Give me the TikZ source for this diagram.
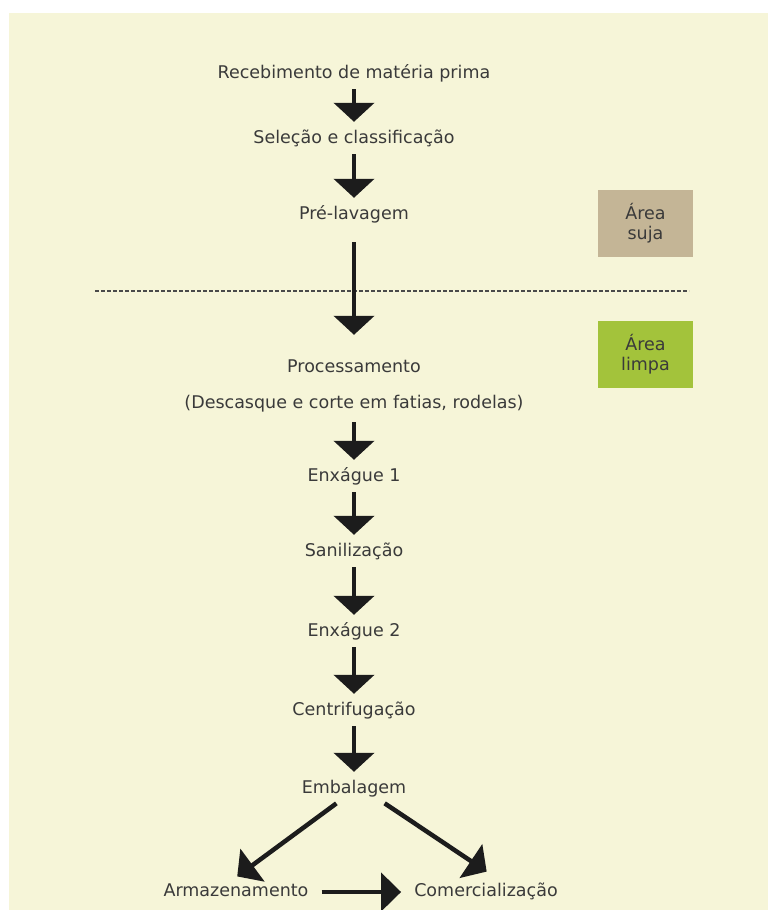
\documentclass[tikz,border=0pt]{standalone}
\usepackage{fontspec}
\setmainfont{DejaVu Sans}
\usepackage{xcolor}
\usepackage{tikz}
\usetikzlibrary{arrows.meta}
\definecolor{paper}{HTML}{F6F5D8}
\definecolor{ink}{HTML}{3A3A3A}
\definecolor{arrowink}{HTML}{1C1C1C}
\definecolor{dashink}{HTML}{4A4A4A}
\definecolor{dirty}{HTML}{C4B596}
\definecolor{clean}{HTML}{A3C33B}
\tikzset{
  stage/.style={text=ink, font=\fontsize{17.5pt}{21pt}\selectfont, anchor=base,
    text height=12pt, text depth=4pt, inner xsep=5pt, inner ysep=5pt},
  flow/.style={draw=arrowink, line width=4.5pt, -{Triangle[width=40pt,length=19pt]},
    shorten <=2pt, shorten >=4pt},
  sepline/.style={draw=dashink, line width=2pt, dash pattern=on 4pt off 2pt},
  areabox/.style={text=ink, font=\fontsize{17.5pt}{20pt}\selectfont, align=center,
    minimum width=95pt, minimum height=67pt, inner sep=0pt}
}

\begin{document}
\begin{tikzpicture}[x=1pt, y=-1pt]
  \useasboundingbox (0,0) rectangle (768,910);
  \fill[paper] (9,13) rectangle (768,910);

  % main column
  \node[stage] (rec) at (354,78) {Recebimento de matéria prima};
  \node[stage] (sel) at (354,143) {Seleção e classificação};
  \node[stage] (pre) at (354,219) {Pré-lavagem};
  \node[stage] (proc) at (354,372) {Processamento};
  \node[stage] (desc) at (354,408) {(Descasque e corte em fatias, rodelas)};
  \node[stage] (enx1) at (354,481) {Enxágue 1};
  \node[stage] (san) at (354,556) {Sanilização};
  \node[stage] (enx2) at (354,636) {Enxágue 2};
  \node[stage] (cen) at (354,715) {Centrifugação};
  \node[stage] (emb) at (354,793) {Embalagem};
  \node[stage] (arm) at (236,896) {Armazenamento};
  \node[stage] (com) at (486,896) {Comercialização};

  % areas
  \node[areabox, fill=dirty] (suja) at (645.5,223) {Área\\suja};
  \node[areabox, fill=clean] (limpa) at (645.5,354) {Área\\limpa};

  \draw[sepline] (95,291) -- (689,291);

  \draw[flow] (rec) -- (sel);
  \draw[flow] (sel) -- (pre);
  \draw[flow, shorten <=14pt, shorten >=20pt] (pre) -- (proc);
  \draw[flow, shorten <=5pt] (desc) -- (enx1);
  \draw[flow] (enx1) -- (san);
  \draw[flow] (san) -- (enx2);
  \draw[flow] (enx2) -- (cen);
  \draw[flow] (cen) -- (emb);

  \draw[flow] ([xshift=-16pt]emb.south) -- ([xshift=-2pt]arm.north);
  \draw[flow] ([xshift=29pt]emb.south) -- ([xshift=4pt,yshift=5pt]com.north);
  \draw[flow, -{Triangle[width=38pt,length=20pt]}, shorten <=8pt, shorten >=8pt] (arm) -- (com);
\end{tikzpicture}
\end{document}
